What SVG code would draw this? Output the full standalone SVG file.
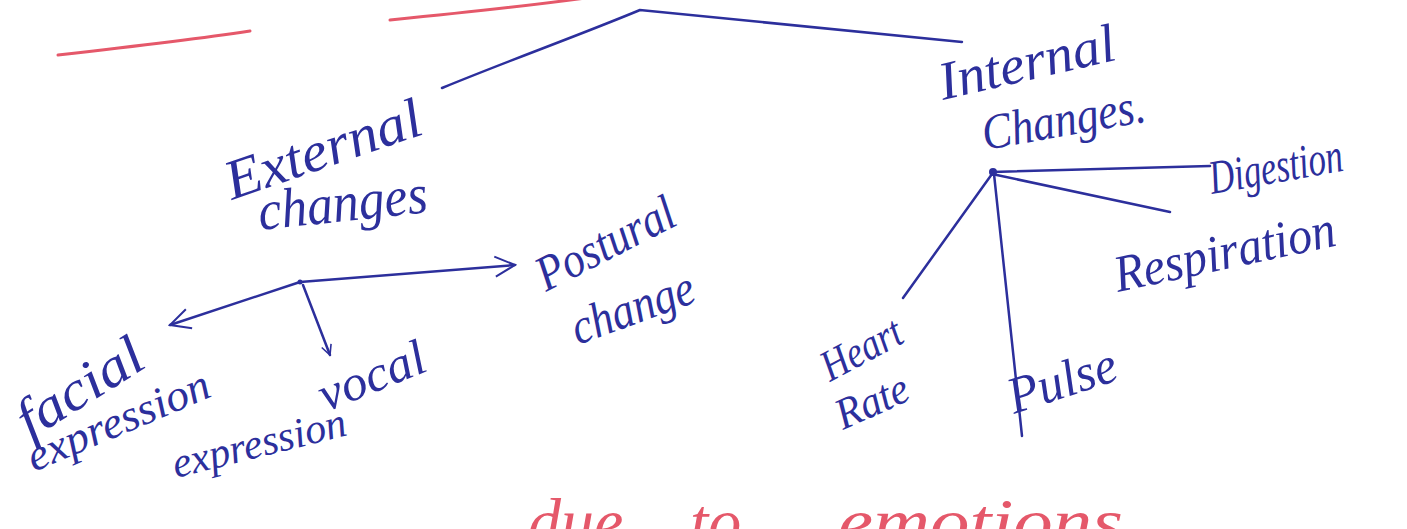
<svg xmlns="http://www.w3.org/2000/svg" width="1407" height="529" viewBox="0 0 1407 529">
  <style>
    .lbl { font-family: "Liberation Serif", "DejaVu Serif", serif; font-style: italic; fill: #2c2f9c; }
    .con { stroke: #2c2f9c; stroke-width: 2.5; fill: none; stroke-linecap: round; }
    .red { stroke: #e5586a; stroke-width: 3; fill: none; stroke-linecap: round; }
    .redtxt { font-family: "Liberation Serif", "DejaVu Serif", serif; font-style: italic; fill: #e5586a; }
  </style>
  <defs>
    <marker id="arr" viewBox="0 0 12 12" refX="11" refY="6" markerWidth="12" markerHeight="12" markerUnits="userSpaceOnUse" orient="auto">
      <path d="M1,1 L11,6 L1,11" fill="none" stroke="#2c2f9c" stroke-width="1.6"/>
    </marker>
    <marker id="arrBig" viewBox="0 0 12 12" refX="11" refY="6" markerWidth="24" markerHeight="24" markerUnits="userSpaceOnUse" orient="auto">
      <path d="M1,1 L11,6 L1,11" fill="none" stroke="#2c2f9c" stroke-width="1"/>
    </marker>
  </defs>
  <rect width="1407" height="529" fill="#ffffff"/>

  <!-- red heading underlines (heading text cut off above the page) -->
  <g id="heading">
    <path class="red" d="M58,55 C120,48 190,40 250,31"/>
    <path class="red" d="M390,20 C450,14 530,6 600,-4"/>
  </g>

  <g id="connectors">
    <path class="con" d="M442,88 C510,60 580,35 640,10 L962,42"/>
    <path class="con" d="M300,282 L515,265" marker-end="url(#arrBig)"/>
    <path class="con" d="M300,282 L170,325" marker-end="url(#arrBig)"/>
    <path class="con" d="M303,285 L330,355" marker-end="url(#arr)"/>
    <circle cx="300" cy="282" r="2.5" fill="#2c2f9c"/>
    <path class="con" d="M992,172 L1210,166"/>
    <path class="con" d="M992,174 L1170,212"/>
    <path class="con" d="M992,174 L903,298"/>
    <path class="con" d="M994,174 L1022,436"/>
    <circle cx="993" cy="172" r="4" fill="#2c2f9c"/>
  </g>

  <g id="node-external">
    <text class="lbl" font-size="56" transform="translate(232,200) rotate(-19)" textLength="205" lengthAdjust="spacingAndGlyphs">External</text>
    <text class="lbl" font-size="56" transform="translate(260,230) rotate(-6)" textLength="170" lengthAdjust="spacingAndGlyphs">changes</text>
  </g>
  <g id="node-postural">
    <text class="lbl" font-size="50" transform="translate(546,292) rotate(-27)" textLength="150" lengthAdjust="spacingAndGlyphs">Postural</text>
    <text class="lbl" font-size="50" transform="translate(578,345) rotate(-20)" textLength="128" lengthAdjust="spacingAndGlyphs">change</text>
  </g>
  <g id="node-facial">
    <text class="lbl" font-size="56" transform="translate(30,440) rotate(-32)" textLength="140" lengthAdjust="spacingAndGlyphs">facial</text>
    <text class="lbl" font-size="44" transform="translate(34,472) rotate(-23)" textLength="195" lengthAdjust="spacingAndGlyphs">expression</text>
  </g>
  <g id="node-vocal">
    <text class="lbl" font-size="50" transform="translate(326,412) rotate(-22)" textLength="112" lengthAdjust="spacingAndGlyphs">vocal</text>
    <text class="lbl" font-size="42" transform="translate(176,478) rotate(-14)" textLength="178" lengthAdjust="spacingAndGlyphs">expression</text>
  </g>
  <g id="node-internal">
    <text class="lbl" font-size="54" transform="translate(943,100) rotate(-13)" textLength="180" lengthAdjust="spacingAndGlyphs">Internal</text>
    <text class="lbl" font-size="50" transform="translate(985,150) rotate(-10)" textLength="165" lengthAdjust="spacingAndGlyphs">Changes.</text>
  </g>
  <g id="node-digestion">
    <text class="lbl" font-size="48" transform="translate(1212,194) rotate(-10)" textLength="135" lengthAdjust="spacingAndGlyphs">Digestion</text>
  </g>
  <g id="node-respiration">
    <text class="lbl" font-size="52" transform="translate(1118,292) rotate(-12)" textLength="225" lengthAdjust="spacingAndGlyphs">Respiration</text>
  </g>
  <g id="node-heart">
    <text class="lbl" font-size="44" transform="translate(830,382) rotate(-28)" textLength="86" lengthAdjust="spacingAndGlyphs">Heart</text>
    <text class="lbl" font-size="44" transform="translate(843,430) rotate(-24)" textLength="76" lengthAdjust="spacingAndGlyphs">Rate</text>
  </g>
  <g id="node-pulse">
    <text class="lbl" font-size="52" transform="translate(1014,414) rotate(-18)" textLength="112" lengthAdjust="spacingAndGlyphs">Pulse</text>
  </g>

  <g id="footer">
    <text class="redtxt" font-size="66" y="544"><tspan x="528">due</tspan><tspan x="690">to</tspan><tspan x="838" textLength="285" lengthAdjust="spacingAndGlyphs">emotions</tspan></text>
  </g>
</svg>
